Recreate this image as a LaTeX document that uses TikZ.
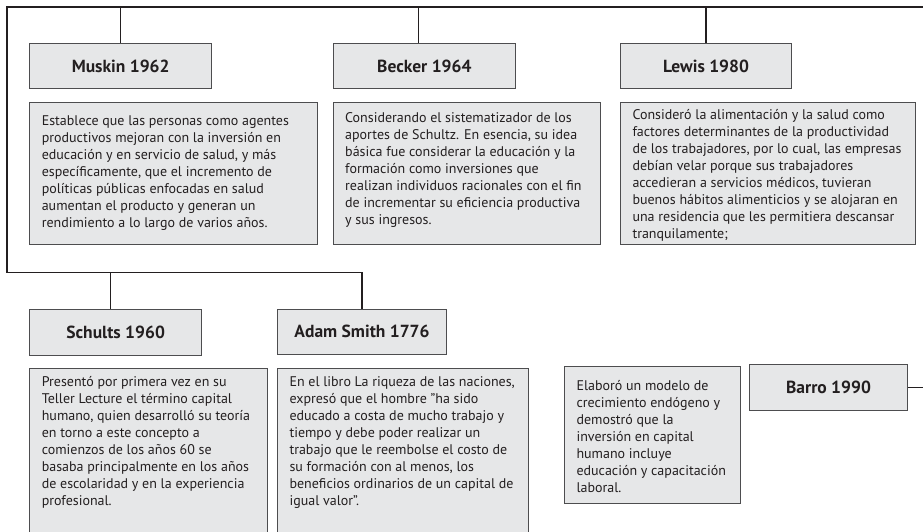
\documentclass[tikz,border=0pt]{standalone}
\usepackage{fontspec}
\setmainfont{PT Sans}
\definecolor{boxfill}{HTML}{E6E7E8}
\definecolor{boxline}{HTML}{4D4D4F}
\definecolor{inkline}{HTML}{231F20}
\tikzstyle{authorbox} = [rectangle, anchor=north west, draw=boxline, fill=boxfill, line width=1pt, text=inkline, font=\bfseries\fontsize{17.5}{20}\selectfont]
\tikzstyle{notebox} = [rectangle, anchor=north west, draw=boxline, fill=boxfill, line width=1pt, inner xsep=12pt, text=inkline, font=\fontsize{14}{17}\selectfont]
\tikzstyle{connector} = [line width=1.3pt, draw=inkline]

\begin{document}
\begin{tikzpicture}[x=1pt, y=-1pt]

    \useasboundingbox (0,0) rectangle (923,531);
    \clip (0,0) rectangle (923,531);

    \node (muskin) [authorbox, minimum width=181.7pt, minimum height=45.6pt] at (29.3,42.7) {Muskin 1962};
    \node (becker) [authorbox, minimum width=182.3pt, minimum height=45.6pt] at (332.7,42.7) {Becker 1964};
    \node (lewis) [authorbox, minimum width=171pt, minimum height=45.6pt] at (620,42.7) {Lewis 1980};

    \node (muskintext) [notebox, inner ysep=13pt] at (29.3,101.7) {\parbox[t][116.6pt][t]{263.4pt}{%
        Establece que las personas como agentes\\
        productivos mejoran con la inversión en\\
        educación y en servicio de salud, y más\\
        específicamente, que el incremento de\\
        políticas públicas enfocadas en salud\\
        aumentan el producto y generan un\\
        rendimiento a lo largo de varios años.}};
    \node (beckertext) [notebox, inner ysep=10pt] at (332.7,101.7) {\parbox[t][122.6pt][t]{243.3pt}{%
        Considerando el sistematizador de los\\
        aportes de Schultz. En esencia, su idea\\
        básica fue considerar la educación y la\\
        formación como inversiones que\\
        realizan individuos racionales con el fin\\
        de incrementar su eficiencia productiva\\
        y sus ingresos.}};
    \node (lewistext) [notebox, inner ysep=7pt] at (620,101.7) {\parbox[t][128.6pt][t]{271pt}{%
        Consideró la alimentación y la salud como\\
        factores determinantes de la productividad\\
        de los trabajadores, por lo cual, las empresas\\
        debían velar porque sus trabajadores\\
        accedieran a servicios médicos, tuvieran\\
        buenos hábitos alimenticios y se alojaran en\\
        una residencia que les permitiera descansar\\
        tranquilamente;}};

    \node (schults) [authorbox, minimum width=171.7pt, minimum height=46pt] at (29.3,309) {Schults 1960};
    \node (adam) [authorbox, minimum width=169pt, minimum height=44.5pt] at (277,309) {Adam Smith 1776};
    \node (barro) [authorbox, minimum width=158pt, minimum height=45.5pt] at (749,364) {Barro 1990};

    \node (schultstext) [notebox, inner ysep=8pt] at (29.3,367.7) {\parbox[t][156pt][t]{213.4pt}{%
        Presentó por primera vez en su\\
        Teller Lecture el término capital\\
        humano, quien desarrolló su teoría\\
        en torno a este concepto a\\
        comienzos de los años 60 se\\
        basaba principalmente en los años\\
        de escolaridad y en la experiencia\\
        profesional.}};
    \node (adamtext) [notebox, inner ysep=8pt] at (277,367.7) {\parbox[t][156pt][t]{227pt}{%
        En el libro La riqueza de las naciones,\\
        expresó que el hombre "ha sido\\
        educado a costa de mucho trabajo y\\
        tiempo y debe poder realizar un\\
        trabajo que le reembolse el costo de\\
        su formación con al menos, los\\
        beneficios ordinarios de un capital de\\
        igual valor".}};
    \node (barrotext) [notebox, inner ysep=14pt] at (564,366) {\parbox[t][109pt][t]{152pt}{%
        Elaboró un modelo de\\
        crecimiento endógeno y\\
        demostró que la\\
        inversión en capital\\
        humano incluye\\
        educación y capacitación\\
        laboral.}};

    \coordinate (topleft) at (7,7);
    \coordinate (topright) at (923,7);
    \coordinate (midleft) at (7,272.7);

    \draw [connector] (topright) -- (topleft) -- (midleft) -- (adam.north |- midleft) -- (adam.north);
    \draw [connector] (muskin.north) -- (muskin.north |- topleft);
    \draw [connector] ([xshift=-6pt]becker.north) -- ([xshift=-6pt]becker.north |- topleft);
    \draw [connector] (lewis.north) -- (lewis.north |- topleft);
    \draw [connector] ([xshift=-5pt]schults.north) -- ([xshift=-5pt]schults.north |- midleft);
    \draw [connector] (barro.east) -- (barro.east -| topright);

\end{tikzpicture}
\end{document}
